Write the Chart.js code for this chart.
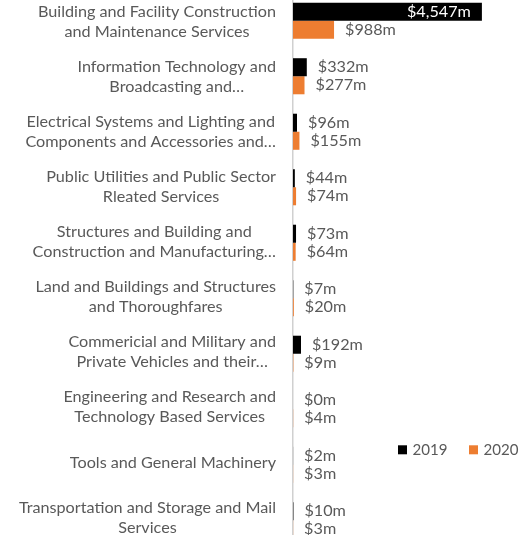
<!DOCTYPE html>
<html>
<head>
<meta charset="utf-8">
<script src="https://cdn.jsdelivr.net/npm/chart.js@4/dist/chart.umd.min.js"></script>
<style>
  html, body { margin: 0; padding: 0; background: #ffffff; overflow: hidden; width: 519px; height: 535px; }
  #wrap { position: absolute; left: 0; top: -7px; width: 519px; height: 555px; }
</style>
</head>
<body>
<div id="wrap"><canvas id="c" width="519" height="555" style="width:519px;height:555px"></canvas></div>
<script>
// ---- data ----
const categories = [
  ["Building and Facility Construction", "and Maintenance Services"],
  ["Information Technology and", "Broadcasting and…"],
  ["Electrical Systems and Lighting and", "Components and Accessories and…"],
  ["Public Utilities and Public Sector", "Rleated Services"],
  ["Structures and Building and", "Construction and Manufacturing…"],
  ["Land and Buildings and Structures", "and Thoroughfares"],
  ["Commericial and Military and", "Private Vehicles and their…"],
  ["Engineering and Research and", "Technology Based Services"],
  ["Tools and General Machinery"],
  ["Transportation and Storage and Mail", "Services"]
];
const values2019 = [4547, 332, 96, 44, 73, 7, 192, 0, 2, 10];
const values2020 = [988, 277, 155, 74, 64, 20, 9, 4, 3, 3];
const seriesNames = ["2019", "2020"];
const xAxisMax = 5440;

// ---- style ----
const FAMILY = "Lato, 'Open Sans', sans-serif";
const TEXT = "#595959";
const colors = ["#000000", "#ED7D31"];

// fit font sizes to the reference text widths
const mctx = document.createElement('canvas').getContext('2d');
mctx.font = "100px " + FAMILY;
const FS = 100 * 238 / mctx.measureText("Building and Facility Construction").width;
const FS_LEG = 100 * 35 / mctx.measureText("2019").width;
const FONT = FS.toFixed(2) + "px " + FAMILY;
const FONT_LEG = FS_LEG.toFixed(2) + "px " + FAMILY;
const LINE_H = 20;
const LABEL_RIGHT = 276;
const AXIS_LEFT = 293;

const categoryLabels = {
  id: 'categoryLabels',
  afterDraw(chart) {
    const ctx = chart.ctx;
    const ys = chart.scales.y;
    ctx.save();
    ctx.font = FONT;
    ctx.fillStyle = TEXT;
    ctx.textAlign = 'center';
    ctx.textBaseline = 'middle';
    categories.forEach((lines, i) => {
      const py = ys.getPixelForTick(i) + 0.6 - i * 0.38;
      const maxW = Math.max(...lines.map(l => ctx.measureText(l).width));
      const cx = LABEL_RIGHT - maxW / 2;
      lines.forEach((l, j) => {
        ctx.fillText(l, cx, py + (j - (lines.length - 1) / 2) * LINE_H);
      });
    });
    ctx.restore();
  }
};

const valueLabels = {
  id: 'valueLabels',
  afterDatasetsDraw(chart) {
    const ctx = chart.ctx;
    ctx.save();
    ctx.font = FONT;
    ctx.textBaseline = 'middle';
    chart.data.datasets.forEach((ds, di) => {
      const meta = chart.getDatasetMeta(di);
      meta.data.forEach((bar, j) => {
        const txt = '$' + ds.data[j].toLocaleString('en-US') + 'm';
        const w = ctx.measureText(txt).width;
        if (bar.x + 11 + w > chart.chartArea.right) {
          ctx.fillStyle = '#ffffff';
          ctx.textAlign = 'right';
          ctx.fillText(txt, bar.x - 11, bar.y);
        } else {
          ctx.fillStyle = TEXT;
          ctx.textAlign = 'left';
          ctx.fillText(txt, bar.x + 11, bar.y);
        }
      });
    });
    ctx.restore();
  }
};

const customLegend = {
  id: 'customLegend',
  afterDraw(chart) {
    const ctx = chart.ctx;
    ctx.save();
    ctx.font = FONT_LEG;
    ctx.textBaseline = 'middle';
    ctx.textAlign = 'left';
    const starts = [398, 469];
    const cy = 456.8;
    chart.data.datasets.forEach((ds, i) => {
      ctx.fillStyle = ds.backgroundColor;
      ctx.fillRect(starts[i], cy - 4.5, 9, 9);
      ctx.fillStyle = TEXT;
      ctx.fillText(ds.label, starts[i] + 14.5, cy);
    });
    ctx.restore();
  }
};

new Chart(document.getElementById('c'), {
  type: 'bar',
  data: {
    labels: categories,
    datasets: [
      { label: seriesNames[0], data: values2019, backgroundColor: colors[0] },
      { label: seriesNames[1], data: values2020, backgroundColor: colors[1] }
    ]
  },
  options: {
    indexAxis: 'y',
    responsive: false,
    animation: false,
    devicePixelRatio: 1,
    layout: { padding: 0 },
    datasets: { bar: { categoryPercentage: 0.65, barPercentage: 1.0 } },
    plugins: { legend: { display: false }, tooltip: { enabled: false } },
    scales: {
      x: { display: false, min: 0, max: xAxisMax },
      y: {
        grid: { display: false },
        border: { display: true, color: '#d0d0d0', width: 1.5 },
        ticks: { display: false },
        afterFit(scale) { scale.width = AXIS_LEFT; }
      }
    }
  },
  plugins: [categoryLabels, valueLabels, customLegend]
});
</script>
</body>
</html>
